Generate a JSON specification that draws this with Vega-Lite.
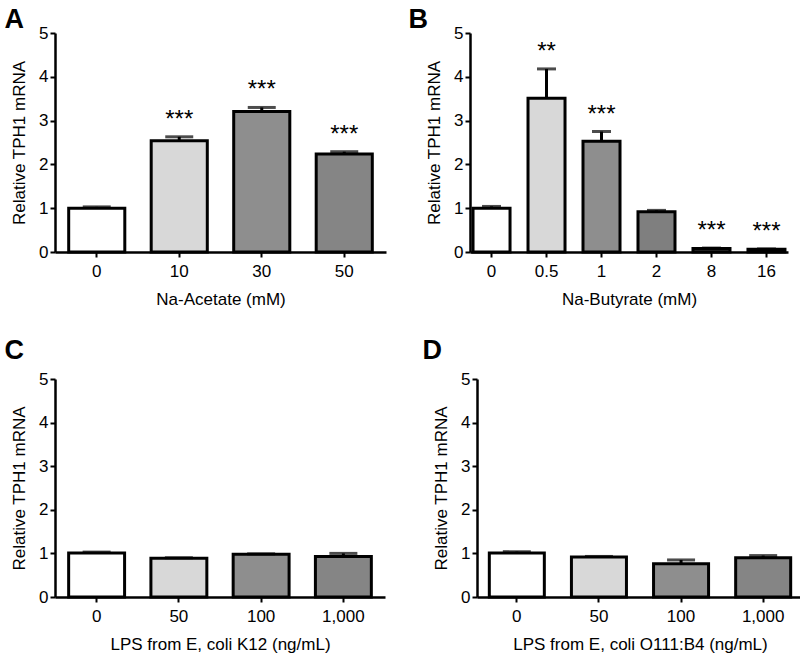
{
  "$schema": "https://vega.github.io/schema/vega-lite/v6.json",
  "background": "white",
  "padding": {"left": 4, "top": 6, "right": 0, "bottom": 2},
  "config": {
    "font": "Liberation Sans",
    "view": {"stroke": null},
    "axis": {
      "domainColor": "black", "domainWidth": 2.5, "tickColor": "black", "tickWidth": 2, "tickSize": 5,
      "labelColor": "black", "titleColor": "black", "labelFontSize": 17, "titleFontSize": 17,
      "titleFontWeight": "normal", "grid": false, "labelFont": "Liberation Sans", "titleFont": "Liberation Sans"
    },
    "axisX": {"labelPadding": 6, "titlePadding": 12, "labelAngle": 0},
    "axisY": {"labelPadding": 2, "titlePadding": 10, "values": [0, 1, 2, 3, 4, 5]},
    "title": {"fontSize": 27, "fontWeight": "bold", "anchor": "start", "frame": "bounds", "color": "black", "font": "Liberation Sans"}
  },
  "spacing": 30,
  "resolve": {"scale": {"fill": "independent", "x": "independent", "y": "independent"}},
  "vconcat": [
    {
      "spacing": 22,
      "resolve": {"scale": {"fill": "independent", "x": "independent", "y": "independent"}},
      "hconcat": [
        {
          "width": 331, "height": 219,
          "title": {"text": "A", "offset": -10, "dx": -6},
          "data": {"values": [
            {"dose": "0", "mean": 1.0, "err": 1.03, "sig": ""},
            {"dose": "10", "mean": 2.54, "err": 2.63, "sig": "***"},
            {"dose": "30", "mean": 3.21, "err": 3.3, "sig": "***"},
            {"dose": "50", "mean": 2.24, "err": 2.29, "sig": "***"}
          ]},
          "encoding": {"x": {"field": "dose", "type": "nominal", "sort": null, "scale": {"paddingInner": 0.32, "paddingOuter": 0.166}, "axis": {"title": "Na-Acetate (mM)"}}},
          "layer": [
            {"mark": {"type": "bar", "stroke": "black", "strokeWidth": 3},
             "encoding": {
               "y": {"field": "mean", "type": "quantitative", "scale": {"domain": [0, 5]}, "axis": {"title": "Relative TPH1 mRNA"}},
               "fill": {"field": "dose", "type": "nominal", "sort": null, "scale": {"domain": ["0", "10", "30", "50"], "range": ["#ffffff", "#d8d8d8", "#8e8e8e", "#858585"]}, "legend": null}}},
            {"mark": {"type": "rule", "strokeWidth": 3, "color": "black"},
             "encoding": {"y": {"field": "mean", "type": "quantitative"}, "y2": {"field": "err"}}},
            {"mark": {"type": "tick", "thickness": 3, "size": 28, "color": "black"},
             "encoding": {"y": {"field": "err", "type": "quantitative"}}},
            {"mark": {"type": "text", "dy": -5, "fontSize": 24, "baseline": "bottom", "color": "black"},
             "encoding": {"y": {"field": "err", "type": "quantitative"}, "text": {"field": "sig"}}}
          ]
        },
        {
          "width": 318, "height": 219,
          "title": {"text": "B", "offset": -10, "dx": -17},
          "data": {"values": [
            {"dose": "0", "mean": 1.0, "err": 1.04, "sig": ""},
            {"dose": "0.5", "mean": 3.51, "err": 4.18, "sig": "**"},
            {"dose": "1", "mean": 2.53, "err": 2.75, "sig": "***"},
            {"dose": "2", "mean": 0.92, "err": 0.95, "sig": ""},
            {"dose": "8", "mean": 0.08, "err": 0.09, "sig": "***"},
            {"dose": "16", "mean": 0.06, "err": 0.07, "sig": "***"}
          ]},
          "encoding": {"x": {"field": "dose", "type": "nominal", "sort": null, "scale": {"paddingInner": 0.327, "paddingOuter": 0.055}, "axis": {"title": "Na-Butyrate (mM)"}}},
          "layer": [
            {"mark": {"type": "bar", "stroke": "black", "strokeWidth": 3},
             "encoding": {
               "y": {"field": "mean", "type": "quantitative", "scale": {"domain": [0, 5]}, "axis": {"title": "Relative TPH1 mRNA"}},
               "fill": {"field": "dose", "type": "nominal", "sort": null, "scale": {"domain": ["0", "0.5", "1", "2", "8", "16"], "range": ["#ffffff", "#d8d8d8", "#8e8e8e", "#7f7f7f", "#404040", "#303030"]}, "legend": null}}},
            {"mark": {"type": "rule", "strokeWidth": 3, "color": "black"},
             "encoding": {"y": {"field": "mean", "type": "quantitative"}, "y2": {"field": "err"}}},
            {"mark": {"type": "tick", "thickness": 3, "size": 19, "color": "black"},
             "encoding": {"y": {"field": "err", "type": "quantitative"}}},
            {"mark": {"type": "text", "dy": -5, "fontSize": 24, "baseline": "bottom", "color": "black"},
             "encoding": {"y": {"field": "err", "type": "quantitative"}, "text": {"field": "sig"}}}
          ]
        }
      ]
    },
    {
      "spacing": 37,
      "resolve": {"scale": {"fill": "independent", "x": "independent", "y": "independent"}},
      "hconcat": [
        {
          "width": 330, "height": 218,
          "title": {"text": "C", "offset": 5, "dx": -6},
          "data": {"values": [
            {"dose": "0", "mean": 1.01, "err": 1.03, "sig": ""},
            {"dose": "50", "mean": 0.89, "err": 0.9, "sig": ""},
            {"dose": "100", "mean": 0.98, "err": 0.99, "sig": ""},
            {"dose": "1,000", "mean": 0.93, "err": 1.0, "sig": ""}
          ]},
          "encoding": {"x": {"field": "dose", "type": "nominal", "sort": null, "scale": {"paddingInner": 0.32, "paddingOuter": 0.166}, "axis": {"title": "LPS from E, coli K12 (ng/mL)"}}},
          "layer": [
            {"mark": {"type": "bar", "stroke": "black", "strokeWidth": 3},
             "encoding": {
               "y": {"field": "mean", "type": "quantitative", "scale": {"domain": [0, 5]}, "axis": {"title": "Relative TPH1 mRNA"}},
               "fill": {"field": "dose", "type": "nominal", "sort": null, "scale": {"domain": ["0", "50", "100", "1,000"], "range": ["#ffffff", "#d8d8d8", "#8e8e8e", "#858585"]}, "legend": null}}},
            {"mark": {"type": "rule", "strokeWidth": 3, "color": "black"},
             "encoding": {"y": {"field": "mean", "type": "quantitative"}, "y2": {"field": "err"}}},
            {"mark": {"type": "tick", "thickness": 3, "size": 28, "color": "black"},
             "encoding": {"y": {"field": "err", "type": "quantitative"}}}
          ]
        },
        {
          "width": 326, "height": 218,
          "title": {"text": "D", "offset": 5, "dx": -10},
          "data": {"values": [
            {"dose": "0", "mean": 1.01, "err": 1.04, "sig": ""},
            {"dose": "50", "mean": 0.92, "err": 0.93, "sig": ""},
            {"dose": "100", "mean": 0.76, "err": 0.85, "sig": ""},
            {"dose": "1,000", "mean": 0.9, "err": 0.95, "sig": ""}
          ]},
          "encoding": {"x": {"field": "dose", "type": "nominal", "sort": null, "scale": {"paddingInner": 0.33, "paddingOuter": 0.15}, "axis": {"title": "LPS from E, coli O111:B4 (ng/mL)"}}},
          "layer": [
            {"mark": {"type": "bar", "stroke": "black", "strokeWidth": 3},
             "encoding": {
               "y": {"field": "mean", "type": "quantitative", "scale": {"domain": [0, 5]}, "axis": {"title": "Relative TPH1 mRNA"}},
               "fill": {"field": "dose", "type": "nominal", "sort": null, "scale": {"domain": ["0", "50", "100", "1,000"], "range": ["#ffffff", "#d8d8d8", "#8e8e8e", "#858585"]}, "legend": null}}},
            {"mark": {"type": "rule", "strokeWidth": 3, "color": "black"},
             "encoding": {"y": {"field": "mean", "type": "quantitative"}, "y2": {"field": "err"}}},
            {"mark": {"type": "tick", "thickness": 3, "size": 28, "color": "black"},
             "encoding": {"y": {"field": "err", "type": "quantitative"}}}
          ]
        }
      ]
    }
  ]
}
